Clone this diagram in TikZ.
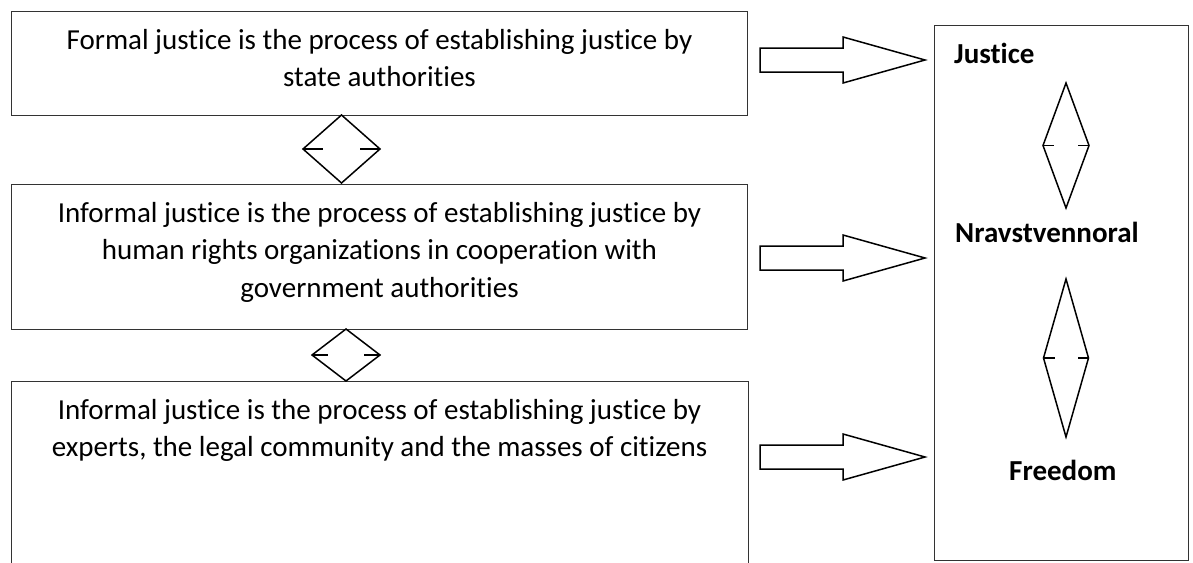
\documentclass[tikz,border=0pt]{standalone}
\usepackage{fontspec}
\setmainfont[Ligatures=NoCommon]{Carlito}
\usetikzlibrary{positioning}

\tikzset{
  panel/.style={draw=black!80, line width=1pt, minimum width=736pt, inner sep=0pt, anchor=north west},
  txt/.style={align=center, font=\fontsize{29}{37.5}\selectfont, inner sep=0pt, anchor=north},
  lbl/.style={font=\fontsize{29}{32}\selectfont\bfseries, inner sep=0pt, anchor=base west},
  outl/.style={draw, line width=1.5pt, line join=miter, fill=white},
  pics/fatarrow/.style={code={
    \draw[outl] (0,-12) -- (83,-12) -- (83,-23) -- (165,0) -- (83,23) -- (83,12) -- (0,12) -- cycle;}},
  pics/link/.style n args={3}{code={
    \draw[outl] (0,-#2) -- (#1,0) -- (0,#2) -- (-#1,0) -- cycle;
    \draw[outl] (-#1,0) -- ++(#3,0) (#1,0) -- ++(-#3,0);}},
}

\begin{document}
\begin{tikzpicture}[x=1pt, y=-1pt]
  \useasboundingbox (0,0) rectangle (1193,562);
  % Left column
  \node[panel, minimum height=104pt] (formal) at (11,11) {};
  \node[panel, minimum height=145pt] (informal) at (11,184) {};
  \node[panel, draw=none, minimum height=181pt] (masses) at (11,381) {};
  \draw[black!80, line width=1pt] (masses.south west) |- (masses.north east) -- (masses.south east);
  \node[txt] (formaltxt) at ([yshift=-18pt]formal.north)
    {Formal justice is the process of establishing justice by\\state authorities};
  \node[txt] (informaltxt) at ([yshift=-18pt]informal.north)
    {Informal justice is the process of establishing justice by\\human rights organizations in cooperation with\\government authorities};
  \node[txt] (massestxt) at ([yshift=-18pt]masses.north)
    {Informal justice is the process of establishing justice by\\experts, the legal community and the masses of citizens};
  % Right column
  \node[panel, minimum width=254pt, minimum height=535pt] (values) at (934,25) {};
  \node[lbl] (justice) at (954,63) {Justice};
  \node[lbl] (moral) at (955,242) {Nravstvennoral};
  \node[lbl] (freedom) at (1009,480) {Freedom};
  % Block arrows
  \foreach \y in {60,258,457}
    \pic at (760,\y) {fatarrow};
  % Two-way links
  \pic at (341.5,149) {link={38.5}{34}{20}};
  \pic at (346,355) {link={34}{26}{16}};
  \pic at (1066,145.5) {link={23}{62.5}{11}};
  \pic at (1066,358) {link={22.5}{79}{11}};
\end{tikzpicture}
\end{document}
